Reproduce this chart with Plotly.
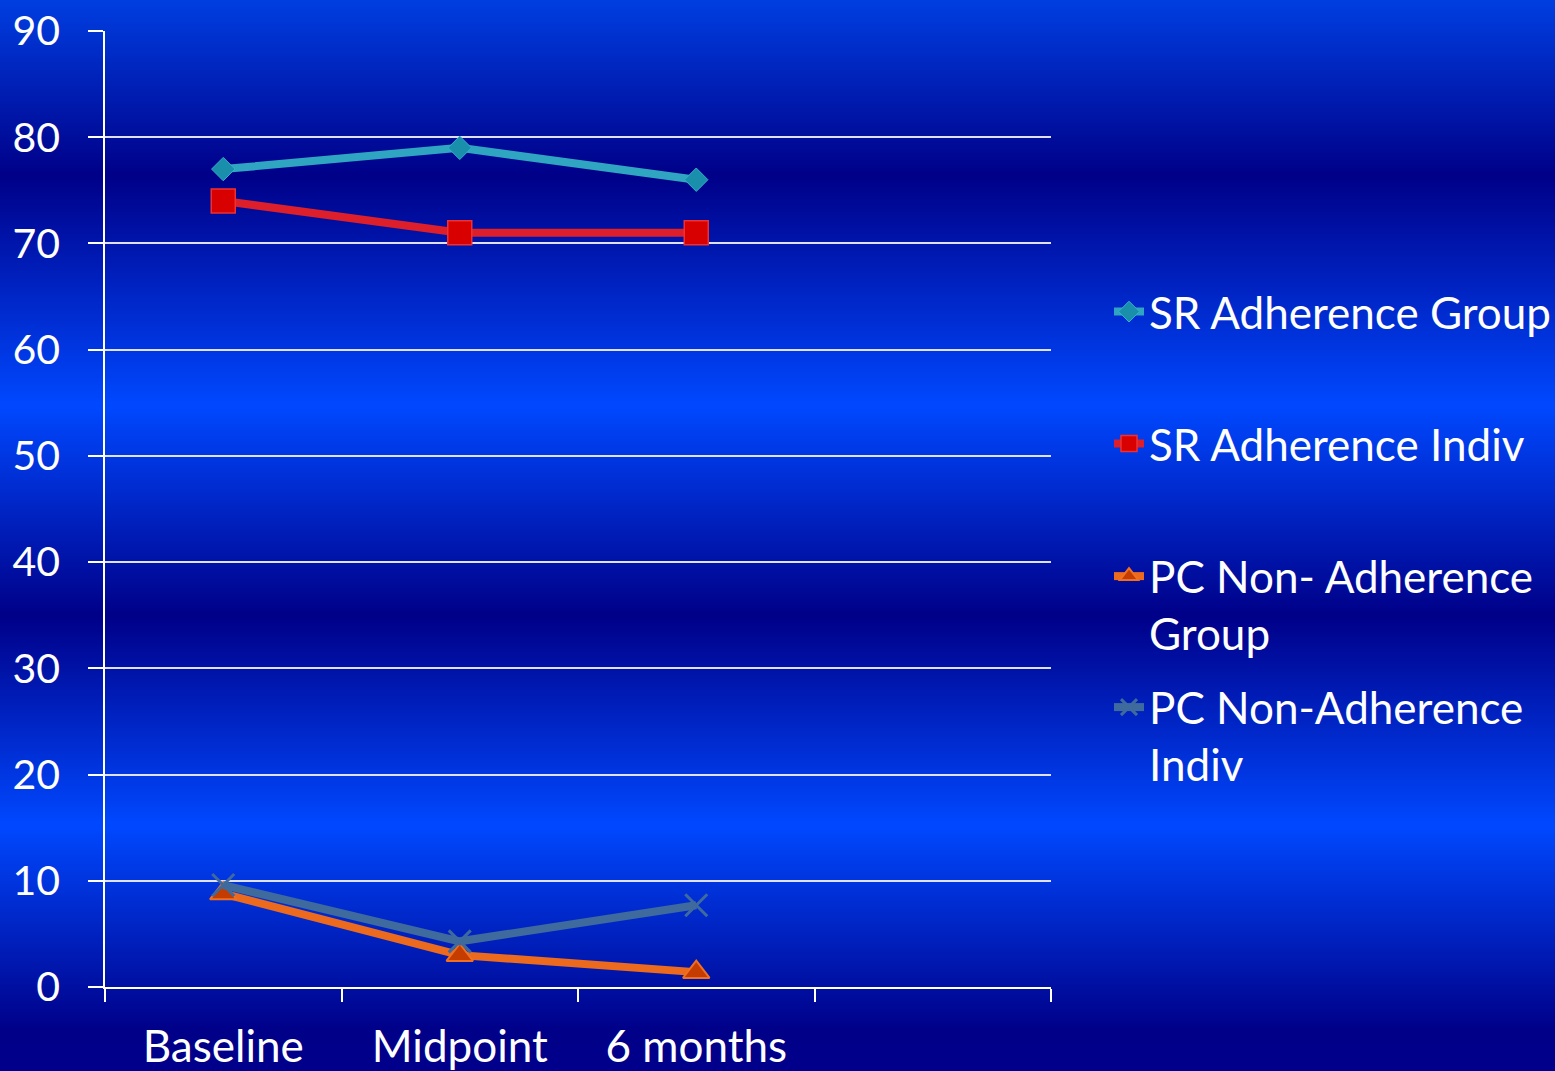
import base64
import struct
import zlib

import plotly.graph_objects as go

# ---------------- data ----------------
categories = ["Baseline", "Midpoint", "6 months"]
cat_pos = [0.5, 1.5, 2.5]
series_names = [
    "SR Adherence Group",
    "SR Adherence Indiv",
    "PC Non- Adherence<br>Group",
    "PC Non-Adherence<br>Indiv",
]
sr_group = [77, 79, 76]
sr_indiv = [74, 71, 71]
pc_group = [8.8, 3.0, 1.4]
pc_indiv = [9.6, 4.3, 7.7]
y_ticks = [0, 10, 20, 30, 40, 50, 60, 70, 80, 90]

# ---------------- figure geometry ----------------
W, H = 1555, 1071
L, R, T, B = 105, 1051, 31, 987
PW, PH = R - L, B - T

# ---------------- background gradient (PNG data URI) ----------------
stops = [
    (0, (0, 62, 225)),
    (175, (0, 0, 136)),
    (405, (0, 72, 255)),
    (615, (0, 0, 136)),
    (825, (0, 72, 255)),
    (1030, (0, 0, 136)),
    (1071, (0, 0, 140)),
]


def color_at(y):
    for (y0, c0), (y1, c1) in zip(stops[:-1], stops[1:]):
        if y0 <= y <= y1:
            t = (y - y0) / (y1 - y0)
            return tuple(int(round(a + (b - a) * t)) for a, b in zip(c0, c1))
    return stops[-1][1]


def make_png(width, height):
    raw = b""
    for y in range(height):
        r, g, b = color_at(y)
        raw += b"\x00" + bytes([r, g, b]) * width

    def chunk(tag, data):
        c = struct.pack(">I", len(data)) + tag + data
        return c + struct.pack(">I", zlib.crc32(tag + data) & 0xFFFFFFFF)

    ihdr = struct.pack(">IIBBBBB", width, height, 8, 2, 0, 0, 0)
    return (b"\x89PNG\r\n\x1a\n" + chunk(b"IHDR", ihdr)
            + chunk(b"IDAT", zlib.compress(raw, 9)) + chunk(b"IEND", b""))


bg_uri = "data:image/png;base64," + base64.b64encode(make_png(4, H)).decode()

FONT = "Lato"
fs = 44

styles = [
    dict(line=dict(color="#2fa5c1", width=8),
         marker=dict(symbol="diamond", size=18, color="#1a8fab",
                     line=dict(color="#35b0c8", width=1))),
    dict(line=dict(color="#dc1f2a", width=8),
         marker=dict(symbol="square", size=24, color="#d80000",
                     line=dict(color="#f03030", width=1.5))),
    dict(line=dict(color="#eb6a1e", width=8),
         marker=dict(symbol="triangle-up", size=23, color="#c43c00",
                     line=dict(color="#f07020", width=2))),
    dict(line=dict(color="#3f6a9e", width=8),
         marker=dict(symbol="x-thin", size=22, color="#3f6a9e",
                     line=dict(color="#3f6a9e", width=3))),
]
values = [sr_group, sr_indiv, pc_group, pc_indiv]
legend_ids = ["legend", "legend2", "legend3", "legend4"]
legend_y_px = [312, 444, 605, 736]

fig = go.Figure()
for name, vals, st, lg in zip(series_names, values, styles, legend_ids):
    fig.add_trace(go.Scatter(x=cat_pos, y=vals, mode="lines+markers", name=name,
                             line=st["line"], marker=st["marker"], legend=lg))

layout_legends = {}
for lg, ypx in zip(legend_ids, legend_y_px):
    layout_legends[lg] = dict(
        x=(1109 - L) / PW, xanchor="left",
        y=(B - ypx) / PH, yanchor="middle",
        valign="top",
        bgcolor="rgba(0,0,0,0)", borderwidth=0,
        font=dict(family=FONT, size=fs, color="white"),
        itemwidth=30,
    )

fig.update_layout(
    width=W, height=H,
    margin=dict(l=L, r=W - R, t=T, b=H - B, autoexpand=False),
    paper_bgcolor="#000088",
    plot_bgcolor="rgba(0,0,0,0)",
    font=dict(family=FONT, size=fs, color="white"),
    showlegend=True,
    images=[dict(source=bg_uri, xref="paper", yref="paper",
                 x=-L / PW, y=1 + T / PH, sizex=W / PW, sizey=H / PH,
                 xanchor="left", yanchor="top", sizing="stretch",
                 layer="below")],
    xaxis=dict(
        range=[0, 4], tickvals=cat_pos, ticktext=categories,
        ticks="outside", ticklen=20, tickcolor="rgba(0,0,0,0)",
        showgrid=False, zeroline=False, automargin=False,
        showline=True, linecolor="white", linewidth=1.5,
        minor=dict(tickvals=[0, 1, 2, 3, 4], ticks="outside", ticklen=13,
                   tickcolor="white", tickwidth=1.5, showgrid=False),
        tickfont=dict(family=FONT, size=fs, color="white"),
        fixedrange=True,
    ),
    yaxis=dict(
        range=[0, 90], tickvals=y_ticks,
        ticks="outside", ticklen=15, tickcolor="white", tickwidth=1.5,
        showgrid=True, gridcolor="rgba(235,235,255,0.95)", gridwidth=1.5,
        zeroline=False, showline=True, linecolor="white", linewidth=1.5,
        ticklabelstandoff=20, automargin=False,
        tickfont=dict(family=FONT, size=41, color="white"),
        fixedrange=True,
    ),
    **layout_legends,
)

fig.write_html(
    "out.html",
    config={"displayModeBar": False},
    post_script="document.body.style.margin='0';document.body.style.overflow='hidden';",
)
